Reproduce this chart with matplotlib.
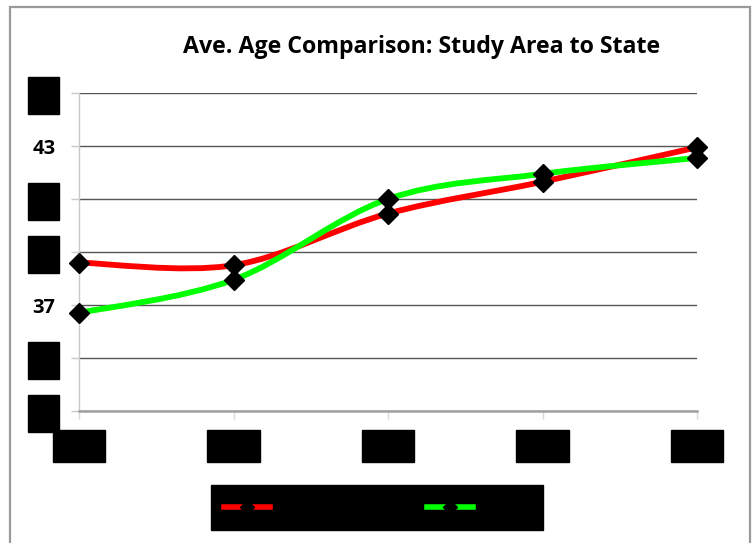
import matplotlib
matplotlib.use("Agg")
import matplotlib.pyplot as plt
from matplotlib.path import Path
from matplotlib.patches import PathPatch, Rectangle
from matplotlib.lines import Line2D
import numpy as np

# Average age by year
years = ["2000", "2005", "2010", "2015", "2020"]
study_area = [38.6, 38.5, 40.45, 41.65, 42.95]
state = [36.7, 37.95, 41.0, 41.95, 42.55]
series_names = ["Study Area", "State"]
series_colors = ["#ff0000", "#00ff00"]

y_ticks = [33, 35, 37, 39, 41, 43, 45]
boxed_y = {33, 35, 39, 41, 45}

FONT = "Open Sans"


def smooth_path(xs, ys):
    """Smoothed line through the points (cubic Bezier, Catmull-Rom tangents)."""
    pts = np.column_stack([xs, ys]).astype(float)
    n = len(pts)
    verts = [pts[0]]
    codes = [Path.MOVETO]
    for i in range(n - 1):
        p0 = pts[max(i - 1, 0)]
        p1 = pts[i]
        p2 = pts[i + 1]
        p3 = pts[min(i + 2, n - 1)]
        verts += [p1 + (p2 - p0) / 6.0, p2 - (p3 - p1) / 6.0, p2]
        codes += [Path.CURVE4] * 3
    return Path(verts, codes)


W, H = 756, 543
fig = plt.figure(figsize=(W / 100, H / 100), dpi=100)
fig.patch.set_facecolor("white")

# outer chart border (open at the bottom)
fig.patches.append(Rectangle((10 / W, -0.05), 740 / W, 1.05 - 7 / H,
                             transform=fig.transFigure, fill=False,
                             edgecolor="#9a9a9a", linewidth=1.6))

ax = fig.add_axes([79 / W, (H - 411) / H, (697 - 79) / W, (411 - 93) / H])
ax.set_xlim(0, len(years) - 1)
ax.set_ylim(min(y_ticks), max(y_ticks))

x = np.arange(len(years))
for vals, col, z in [(study_area, series_colors[0], 3), (state, series_colors[1], 4)]:
    ax.add_patch(PathPatch(smooth_path(x, vals), fill=False, edgecolor=col,
                           linewidth=4.2, capstyle="butt", zorder=z, clip_on=False))
for vals, z in [(study_area, 5), (state, 6)]:
    ax.plot(x, vals, linestyle="none", marker="D", markersize=10,
            markerfacecolor="black", markeredgecolor="black", zorder=z, clip_on=False)

ax.set_yticks(y_ticks)
ax.set_xticks(x)
ax.set_xticklabels(years)
ax.yaxis.grid(True, color="#555555", linewidth=1.0)
ax.set_axisbelow(True)

for s in ("top", "right"):
    ax.spines[s].set_visible(False)
ax.spines["left"].set_color("#c8c8c8")
ax.spines["left"].set_linewidth(1.0)
ax.spines["bottom"].set_color("#a0a0a0")
ax.spines["bottom"].set_linewidth(1.8)

ax.tick_params(axis="y", length=6, width=1, color="#c8c8c8", pad=11)
ax.tick_params(axis="x", length=6, width=1, color="#d8d8d8", pad=12)

for lbl, v in zip(ax.get_yticklabels(), y_ticks):
    lbl.set_fontfamily(FONT)
    lbl.set_fontweight("bold")
    lbl.set_fontsize(14.5)
    lbl.set_color("black")
    if v in boxed_y:
        lbl.set_bbox(dict(facecolor="black", edgecolor="black",
                          boxstyle="square,pad=0.2", mutation_aspect=2.0))

for lbl in ax.get_xticklabels():
    lbl.set_fontfamily(FONT)
    lbl.set_fontweight("bold")
    lbl.set_fontsize(14)
    lbl.set_color("black")
    lbl.set_bbox(dict(facecolor="black", edgecolor="black",
                      boxstyle="square,pad=0.2", mutation_aspect=1.6))

fig.text(422 / W, 1 - 47 / H, "Ave. Age Comparison: Study Area to State",
         ha="center", va="center", fontsize=16.7, fontweight="bold",
         fontfamily=FONT, color="black")

handles = [Line2D([], [], color=c, linewidth=4, marker="D", markersize=7,
                  markerfacecolor="black", markeredgecolor="black")
           for c in series_colors]
leg = fig.legend(handles, series_names, loc="center",
                 bbox_to_anchor=(377 / W, 1 - 507.5 / H), ncol=2,
                 frameon=True, fancybox=False, facecolor="black",
                 edgecolor="black", framealpha=1,
                 prop={"family": FONT, "weight": "bold", "size": 12},
                 handlelength=2.75, handletextpad=0.8, columnspacing=3.2,
                 borderpad=0.8)
for t in leg.get_texts():
    t.set_color("black")

fig.savefig("out.png", dpi=100, facecolor="white")
